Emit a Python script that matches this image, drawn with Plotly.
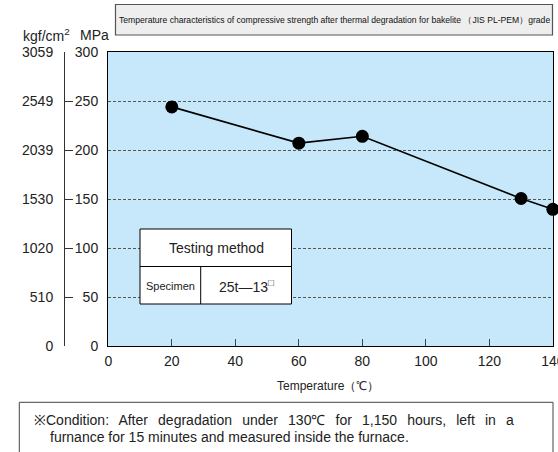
import plotly.graph_objects as go

# ---- data ----
temps = [20, 60, 80, 130, 140]
strength_mpa = [244, 207, 214, 150.5, 139.5]
mpa_ticks = [0, 50, 100, 150, 200, 250, 300]
kgf_labels = ["0", "510", "1020", "1530", "2039", "2549", "3059"]
x_ticks = [0, 20, 40, 60, 80, 100, 120, 140]

title_text = "Temperature characteristics of compressive strength after thermal degradation for bakelite （JIS PL-PEM）grade"
cond_words1 = ["※Condition:", "After", "degradation", "under", "130℃", "for", "1,150", "hours,", "left", "in", "a"]
cond_line2 = "furnance for 15 minutes and measured inside the furnace."

# ---- geometry helpers (pixel -> paper) ----
W, H = 558, 452
ML, MR, MT, MB = 60, 5, 52, 106
PW, PH = W - ML - MR, H - MT - MB


def px(x):
    return (x - ML) / PW


def py(y):
    return (H - MB - y) / PH


SANS = "Liberation Sans, Arial, sans-serif"

fig = go.Figure()
fig.add_trace(go.Scatter(
    x=temps, y=strength_mpa, mode="lines+markers",
    line=dict(color="black", width=1.6),
    marker=dict(color="black", size=13),
    cliponaxis=False, showlegend=False, hoverinfo="skip"))

# invisible trace for the kgf axis
fig.add_trace(go.Scatter(x=[None], y=[None], yaxis="y2", showlegend=False))

fig.update_layout(
    width=W, height=H,
    margin=dict(l=ML, r=MR, t=MT, b=MB, autoexpand=False),
    paper_bgcolor="white",
    plot_bgcolor="#C7E8FA",
    font=dict(family=SANS, size=14, color="#222"),
    xaxis=dict(
        domain=[px(108), 1], range=[-0.1, 140.05],
        tickvals=x_ticks, ticks="inside", ticklen=7, tickcolor="#444",
        showline=True, linecolor="black", linewidth=1, mirror=True,
        showgrid=False, zeroline=False, ticklabelstandoff=2,
        ticklabeloverflow="allow",
        tickfont=dict(family=SANS, size=14, color="#222"),
    ),
    yaxis=dict(
        range=[0, 300], tickvals=mpa_ticks, ticks="",
        showline=True, linecolor="black", linewidth=1, mirror=True,
        showgrid=True, gridcolor="#555", griddash="3px,2px", gridwidth=1,
        zeroline=False, ticklabelstandoff=6,
        tickfont=dict(family=SANS, size=14, color="#222"),
    ),
    yaxis2=dict(
        overlaying="y", anchor="free", position=px(64), side="left",
        range=[0, 300], tickvals=mpa_ticks, ticktext=kgf_labels,
        ticks="inside", ticklen=8, tickcolor="#333",
        showline=True, linecolor="#333", linewidth=1,
        showgrid=False, zeroline=False, ticklabelstandoff=8,
        tickfont=dict(family=SANS, size=14, color="#222"),
    ),
)

shapes = []
annotations = []

# title box
shapes.append(dict(type="rect", xref="paper", yref="paper",
                   x0=px(115.5), x1=px(552.5), y0=py(35), y1=py(4.5),
                   fillcolor="#EEEEEE", line=dict(color="#555", width=1.2)))
annotations.append(dict(xref="paper", yref="paper", x=px(334), y=py(20),
                        text=title_text, showarrow=False,
                        font=dict(family=SANS, size=8.6, color="#111"),
                        xanchor="center", yanchor="middle"))

# axis unit headers
annotations.append(dict(xref="paper", yref="paper", x=px(46), y=py(35),
                        text="kgf/cm<sup>2</sup>", showarrow=False,
                        font=dict(family=SANS, size=14, color="#222"),
                        xanchor="center", yanchor="middle"))
annotations.append(dict(xref="paper", yref="paper", x=px(94), y=py(35),
                        text="MPa", showarrow=False,
                        font=dict(family=SANS, size=14, color="#222"),
                        xanchor="center", yanchor="middle"))

# x-axis title
annotations.append(dict(xref="paper", yref="paper", x=px(328), y=py(386),
                        text="Temperature（℃）", showarrow=False,
                        font=dict(family=SANS, size=12, color="#222"),
                        xanchor="center", yanchor="middle"))

# testing method table
shapes.append(dict(type="rect", xref="paper", yref="paper",
                   x0=px(140), x1=px(291.5), y0=py(304), y1=py(229),
                   fillcolor="white", line=dict(color="black", width=1)))
shapes.append(dict(type="line", xref="paper", yref="paper",
                   x0=px(140), x1=px(291.5), y0=py(266.5), y1=py(266.5),
                   line=dict(color="black", width=1)))
shapes.append(dict(type="line", xref="paper", yref="paper",
                   x0=px(200.7), x1=px(200.7), y0=py(266.5), y1=py(304),
                   line=dict(color="black", width=1)))
annotations.append(dict(xref="paper", yref="paper", x=px(216), y=py(248),
                        text="Testing method", showarrow=False,
                        font=dict(family=SANS, size=14, color="#222"),
                        xanchor="center", yanchor="middle"))
annotations.append(dict(xref="paper", yref="paper", x=px(170.5), y=py(285.5),
                        text="Specimen", showarrow=False,
                        font=dict(family=SANS, size=11, color="#222"),
                        xanchor="center", yanchor="middle"))
annotations.append(dict(xref="paper", yref="paper", x=px(246), y=py(285.5),
                        text="25t—13<sup>□</sup>", showarrow=False,
                        font=dict(family=SANS, size=14, color="#222"),
                        xanchor="center", yanchor="middle"))

# condition box
shapes.append(dict(type="rect", xref="paper", yref="paper",
                   x0=px(19.3), x1=px(553), y0=py(460), y1=py(402.3),
                   fillcolor="white", line=dict(color="#444", width=1)))
gap = "\u00a0\u200a\u200a "
annotations.append(dict(xref="paper", yref="paper", x=px(31.5), y=py(419.5),
                        text=gap.join(cond_words1), showarrow=False,
                        font=dict(family=SANS, size=14, color="#222"),
                        xanchor="left", yanchor="middle"))
annotations.append(dict(xref="paper", yref="paper", x=px(48), y=py(437),
                        text=cond_line2, showarrow=False,
                        font=dict(family=SANS, size=14, color="#222"),
                        xanchor="left", yanchor="middle"))

fig.update_layout(shapes=shapes, annotations=annotations)
fig.write_html("out.html",
               config={"displayModeBar": False},
               post_script="document.body.style.margin='0';document.body.style.padding='0';")
